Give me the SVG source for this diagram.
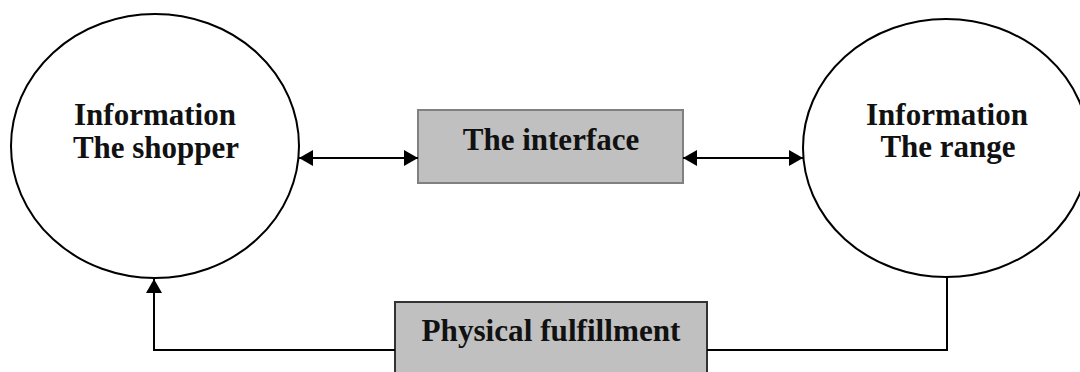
<svg xmlns="http://www.w3.org/2000/svg" width="1080" height="372" viewBox="0 0 1080 372">
<style>
.node{fill:#fff;stroke:#000;stroke-width:2}
.box{fill:#c0c0c0;stroke:#808080;stroke-width:2}
.box2{fill:#c0c0c0;stroke:#333;stroke-width:2}
.t{font-family:"Liberation Serif",serif;font-weight:bold;font-size:31px;fill:#111;text-anchor:middle}
.c{fill:none;stroke:#000;stroke-width:2}
</style>
<defs>
<marker id="ah" markerWidth="14" markerHeight="16" refX="14" refY="8" orient="auto-start-reverse" markerUnits="userSpaceOnUse" viewBox="0 0 14 16">
<path d="M0,0 L14,8 L0,16 z" fill="#000"/>
</marker>
</defs>
<rect width="1080" height="372" fill="#fff"/>
<g id="shopper">
<ellipse class="node" cx="155" cy="146" rx="144" ry="132"/>
<text class="t" x="155" y="125">Information</text>
<text class="t" x="156" y="158">The shopper</text>
</g>
<g id="range">
<ellipse class="node" cx="946" cy="148" rx="143" ry="129"/>
<text class="t" x="947" y="125">Information</text>
<text class="t" x="948" y="157">The range</text>
</g>
<g id="interface">
<rect class="box" x="418" y="110" width="265" height="73"/>
<text class="t" x="551" y="150">The interface</text>
</g>
<g id="fulfillment">
<rect class="box2" x="395" y="302" width="312" height="80"/>
<text class="t" x="551" y="341" textLength="259" lengthAdjust="spacingAndGlyphs">Physical fulfillment</text>
</g>
<g id="connectors">
<line class="c" x1="299" y1="158" x2="418" y2="158" marker-start="url(#ah)" marker-end="url(#ah)"/>
<line class="c" x1="683" y1="158" x2="803" y2="158" marker-start="url(#ah)" marker-end="url(#ah)"/>
<polyline class="c" points="395,350 154,350 154,279" marker-end="url(#ah)"/>
<polyline class="c" points="707,350 947,350 947,277"/>
</g>
</svg>
